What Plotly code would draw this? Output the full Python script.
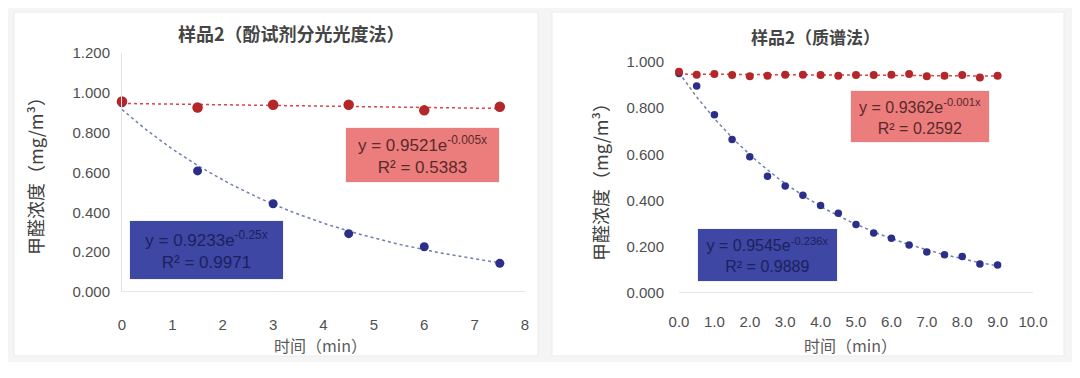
import numpy as np
import plotly.graph_objects as go

# page body has an 8px margin; the figure is sized to fill the rest of the window
OFF = 8
W, H = 1080 - OFF, 378 - OFF

# ---- data: left chart (phenol reagent spectrophotometry) ----
left_time = [0, 1.5, 3, 4.5, 6, 7.5]
left_red = [0.957, 0.926, 0.940, 0.940, 0.912, 0.930]
left_blue = [0.950, 0.608, 0.443, 0.293, 0.227, 0.144]
left_red_eq = "y = 0.9521e<sup>-0.005x</sup><br>R² = 0.5383"
left_blue_eq = "y = 0.9233e<sup>-0.25x</sup><br>R² = 0.9971"

# ---- data: right chart (mass spectrometry) ----
right_time = [0.0, 0.5, 1.0, 1.5, 2.0, 2.5, 3.0, 3.5, 4.0, 4.5, 5.0, 5.5, 6.0,
              6.5, 7.0, 7.5, 8.0, 8.5, 9.0]
right_red = [0.958, 0.945, 0.948, 0.944, 0.938, 0.941, 0.945, 0.945, 0.944,
             0.941, 0.944, 0.944, 0.945, 0.948, 0.938, 0.941, 0.944, 0.933, 0.941]
right_blue = [0.950, 0.896, 0.772, 0.664, 0.590, 0.505, 0.463, 0.423, 0.379,
              0.345, 0.297, 0.260, 0.237, 0.208, 0.178, 0.166, 0.158, 0.126, 0.121]
right_red_eq = "y = 0.9362e<sup>-0.001x</sup><br>R² = 0.2592"
right_blue_eq = "y = 0.9545e<sup>-0.236x</sup><br>R² = 0.9889"

left_title = "样品2（酚试剂分光光度法）"
right_title = "样品2（质谱法）"
y_title = "甲醛浓度（mg/m³）"
x_title = "时间（min）"

RED = "#b3272a"
BLUE = "#2b2f8a"
RED_FIT = "#d8444a"
BLUE_FIT = "#6f7fae"
FONT = "Liberation Sans, Noto Sans CJK SC"
CJK = "Noto Sans CJK SC"


def expfit(x, y):
    x = np.asarray(x, float)
    y = np.asarray(y, float)
    b, a = np.polyfit(x, np.log(y), 1)
    xs = np.linspace(x.min(), x.max(), 100)
    return xs, np.exp(a) * np.exp(b * xs)


def px(xp):
    return (xp - OFF) / W


def py(yp):
    return 1 - (yp - OFF) / H


fig = go.Figure()

# left chart traces
for ys, col, fcol, size in [(left_blue, BLUE, BLUE_FIT, 9), (left_red, RED, RED_FIT, 10.5)]:
    fx, fy = expfit(left_time, ys)
    fig.add_trace(go.Scatter(x=fx, y=fy, mode="lines", xaxis="x", yaxis="y",
                             line=dict(color=fcol, width=1.5, dash="dot"),
                             hoverinfo="skip", showlegend=False))
    fig.add_trace(go.Scatter(x=left_time, y=ys, mode="markers", xaxis="x", yaxis="y",
                             marker=dict(color=col, size=size), showlegend=False,
                             cliponaxis=False))

# right chart traces
for ys, col, fcol, size in [(right_blue, BLUE, BLUE_FIT, 7.5), (right_red, RED, RED_FIT, 8)]:
    fx, fy = expfit(right_time, ys)
    fig.add_trace(go.Scatter(x=fx, y=fy, mode="lines", xaxis="x2", yaxis="y2",
                             line=dict(color=fcol, width=1.5, dash="dot"),
                             hoverinfo="skip", showlegend=False))
    fig.add_trace(go.Scatter(x=right_time, y=ys, mode="markers", xaxis="x2", yaxis="y2",
                             marker=dict(color=col, size=size), showlegend=False,
                             cliponaxis=False))

tickfont = dict(family=FONT, size=15, color="#4f4f4f")
axis_common = dict(showgrid=False, zeroline=False, ticks="", tickfont=tickfont,
                   fixedrange=True, automargin=False)

fig.update_layout(
    width=W, height=H,
    margin=dict(l=0, r=0, t=0, b=0, pad=0),
    paper_bgcolor="#f5f5f5",
    plot_bgcolor="rgba(0,0,0,0)",
    xaxis=dict(domain=[px(122), px(525)], range=[0, 8], dtick=1, anchor="y",
               showline=False, ticklabelstandoff=22, **axis_common),
    yaxis=dict(domain=[py(292), py(53)], range=[0, 1.2], dtick=0.2, tickformat=".3f",
               anchor="x", showline=True, linecolor="#e3e3e3", linewidth=1,
               ticklabelstandoff=8, **axis_common),
    xaxis2=dict(domain=[px(679), px(1033)], range=[0, 10], dtick=1, tickformat=".1f",
                anchor="y2", showline=False, ticklabelstandoff=18, **axis_common),
    yaxis2=dict(domain=[py(293), py(62)], range=[0, 1.0], dtick=0.2, tickformat=".3f",
                anchor="x2", showline=False, ticklabelstandoff=14, **axis_common),
)

# panel backgrounds and axis baselines
shapes = [
    dict(type="rect", xref="paper", yref="paper", x0=px(14), x1=px(538), y0=py(356), y1=py(12),
         fillcolor="#ffffff", line=dict(color="#ebebeb", width=1), layer="below"),
    dict(type="rect", xref="paper", yref="paper", x0=px(552), x1=px(1064), y0=py(356), y1=py(12),
         fillcolor="#ffffff", line=dict(color="#ebebeb", width=1), layer="below"),
    dict(type="rect", xref="paper", yref="paper", x0=0, x1=1, y0=0, y1=py(362),
         fillcolor="#ffffff", line=dict(width=0), layer="below"),
    dict(type="line", xref="x", yref="y", x0=0, x1=8, y0=0, y1=0,
         line=dict(color="#dcdcdc", width=1.5)),
    dict(type="line", xref="x2", yref="y2", x0=0, x1=10, y0=0, y1=0,
         line=dict(color="#dcdcdc", width=1.5)),
]
fig.update_layout(shapes=shapes)

ann = []
# titles
ann.append(dict(text="<b>" + left_title + "</b>", x=px(291), y=py(33), xref="paper", yref="paper",
                showarrow=False, font=dict(family=CJK, size=18, color="#454545"),
                xanchor="center", yanchor="middle"))
ann.append(dict(text="<b>" + right_title + "</b>", x=px(815), y=py(36), xref="paper", yref="paper",
                showarrow=False, font=dict(family=CJK, size=17, color="#454545"),
                xanchor="center", yanchor="middle"))
# axis titles
for xp, ypix in [(35, 172), (600, 178)]:
    ann.append(dict(text=y_title, x=px(xp), y=py(ypix), xref="paper", yref="paper",
                    showarrow=False, textangle=-90,
                    font=dict(family=CJK, size=18, color="#404040"),
                    xanchor="center", yanchor="middle"))
for xp in [320, 850]:
    ann.append(dict(text=x_title, x=px(xp), y=py(345), xref="paper", yref="paper",
                    showarrow=False, font=dict(family=CJK, size=16, color="#5a5a5a"),
                    xanchor="center", yanchor="middle"))
# equation boxes
boxes = [
    (left_red_eq, 422, 155, 155, 56, 17, "#ec7d7d", "#5a2a2a"),
    (left_blue_eq, 206, 250, 155, 60, 17, "#3e47a3", "#1c2160"),
    (right_red_eq, 920, 116, 140, 53, 16, "#ec7d7d", "#5a2a2a"),
    (right_blue_eq, 767, 255, 141, 54, 16, "#3e47a3", "#1c2160"),
]
for text, cx, cy, w, h, fs, bg, fc in boxes:
    ann.append(dict(text=text, x=px(cx), y=py(cy), xref="paper", yref="paper",
                    showarrow=False, width=w - 2, height=h - 2, bgcolor=bg, borderpad=0,
                    bordercolor="#f2f2f2", borderwidth=1,
                    font=dict(family=FONT, size=fs, color=fc),
                    xanchor="center", yanchor="middle", align="center"))
fig.update_layout(annotations=ann)

fig.write_html("out.html")
